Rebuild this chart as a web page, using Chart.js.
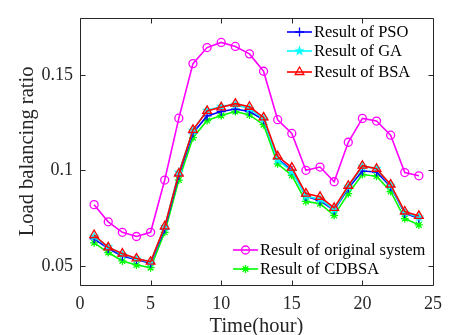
<!DOCTYPE html>
<html><head><meta charset="utf-8">
<script src="https://cdn.jsdelivr.net/npm/chart.js@4.4.0/dist/chart.umd.min.js"></script>
<style>html,body{margin:0;padding:0;background:#fff;}#wrap{width:450px;height:335px;position:relative;}</style>
</head><body><div id="wrap"><canvas id="c" width="450" height="335"></canvas></div>
<script>
const hours = [1,2,3,4,5,6,7,8,9,10,11,12,13,14,15,16,17,18,19,20,21,22,23,24];
const original = [0.0821,0.0731,0.0676,0.0654,0.0676,0.0950,0.1274,0.1560,0.1644,0.1671,0.1650,0.1611,0.1520,0.1266,0.1194,0.1001,0.1018,0.0941,0.1148,0.1273,0.1259,0.1185,0.0989,0.0972];
const pso = [0.0642,0.0591,0.0551,0.0534,0.0514,0.0693,0.0975,0.1197,0.1286,0.1309,0.1322,0.1309,0.1266,0.1061,0.1001,0.0864,0.0842,0.0791,0.0907,0.0997,0.0992,0.0915,0.0775,0.0750];
const ga = [0.0655,0.0600,0.0560,0.0537,0.0520,0.0705,0.0990,0.1210,0.1315,0.1335,0.1345,0.1325,0.1270,0.1055,0.0995,0.0865,0.0850,0.0795,0.0915,0.1020,0.1010,0.0920,0.0780,0.0755];
const bsa = [0.0662,0.0597,0.0565,0.0539,0.0522,0.0707,0.0984,0.1213,0.1312,0.1331,0.1350,0.1334,0.1278,0.1074,0.1015,0.0879,0.0862,0.0804,0.0920,0.1025,0.1009,0.0926,0.0785,0.0762];
const cdbsa = [0.0621,0.0570,0.0526,0.0505,0.0491,0.0676,0.0950,0.1172,0.1262,0.1288,0.1309,0.1291,0.1240,0.1035,0.0975,0.0838,0.0826,0.0765,0.0879,0.0979,0.0970,0.0890,0.0748,0.0715];
const xTicks = [0,5,10,15,20,25];
const yTicks = [0.05,0.1,0.15];
const yTickLabels = ['0.05','0.1','0.15'];
const seriesNames = ['Result of PSO','Result of GA','Result of BSA','Result of original system','Result of CDBSA'];

const FONT = "'Liberation Serif','Times New Roman',serif";
const AX = '#262626';

function starCanvas(color, r){
  const c = document.createElement('canvas');
  const s = Math.ceil(r*2+2); c.width = s; c.height = s;
  const g = c.getContext('2d');
  g.fillStyle = color; g.beginPath();
  for(let i=0;i<10;i++){
    const a = -Math.PI/2 + i*Math.PI/5;
    const rr = i%2===0 ? r : r*0.42;
    const px = s/2 + rr*Math.cos(a), py = s/2 + rr*Math.sin(a);
    if(i===0) g.moveTo(px,py); else g.lineTo(px,py);
  }
  g.closePath(); g.fill();
  return c;
}
const gaStar = starCanvas('#00ffff', 5.5);

function pts(arr){ return hours.map((h,i)=>({x:h,y:arr[i]})); }

const styles = [
  {color:'#0000ff', ps:'cross', r:4.5, ord:2},
  {color:'#00ffff', ps:gaStar, r:5, ord:1},
  {color:'#ff0000', ps:'triangle', r:5, ord:0},
  {color:'#ff00ff', ps:'circle', r:4, ord:4},
  {color:'#00ff00', ps:'star', r:4, ord:3}
];
const seriesData = [pso, ga, bsa, original, cdbsa];

const datasets = seriesData.map((d,i)=>({
  label: seriesNames[i],
  data: pts(d),
  borderColor: styles[i].color,
  backgroundColor: 'rgba(0,0,0,0)',
  pointBorderColor: styles[i].color,
  pointBackgroundColor: 'rgba(0,0,0,0)',
  pointStyle: styles[i].ps,
  pointRadius: styles[i].r,
  pointBorderWidth: 1.3,
  borderWidth: 1.6,
  tension: 0,
  order: styles[i].ord
}));

function drawMarker(ctx, st, x, y){
  ctx.save();
  ctx.strokeStyle = st.color; ctx.lineWidth = 1.3;
  const r = st.r;
  if (st.ps === 'circle'){ ctx.beginPath(); ctx.arc(x,y,r,0,Math.PI*2); ctx.stroke(); }
  else if (st.ps === 'triangle'){
    ctx.beginPath();
    ctx.moveTo(x, y - r); ctx.lineTo(x + r*0.866, y + r*0.5); ctx.lineTo(x - r*0.866, y + r*0.5); ctx.closePath(); ctx.stroke();
  } else if (st.ps === 'cross'){
    ctx.beginPath(); ctx.moveTo(x-r,y); ctx.lineTo(x+r,y); ctx.moveTo(x,y-r); ctx.lineTo(x,y+r); ctx.stroke();
  } else if (st.ps === 'star'){
    ctx.beginPath();
    ctx.moveTo(x-r,y); ctx.lineTo(x+r,y); ctx.moveTo(x,y-r); ctx.lineTo(x,y+r);
    const q = r*0.707;
    ctx.moveTo(x-q,y-q); ctx.lineTo(x+q,y+q); ctx.moveTo(x-q,y+q); ctx.lineTo(x+q,y-q); ctx.stroke();
  } else {
    ctx.drawImage(st.ps, x - st.ps.width/2, y - st.ps.height/2);
  }
  ctx.restore();
}

const framePlugin = {
  id: 'frame',
  afterDraw(chart){
    const ctx = chart.ctx, a = chart.chartArea;
    const xs = chart.scales.x, ys = chart.scales.y;
    ctx.save();
    ctx.strokeStyle = AX; ctx.lineWidth = 1;
    const L = Math.round(a.left)+0.5, R = Math.round(a.right)+0.5, T = Math.round(a.top)+0.5, B = Math.round(a.bottom)+0.5;
    ctx.beginPath(); ctx.rect(L, T, R-L, B-T); ctx.stroke();
    const tl = 5;
    ctx.beginPath();
    xTicks.forEach(v=>{
      const px = Math.round(xs.getPixelForValue(v))+0.5;
      ctx.moveTo(px,B); ctx.lineTo(px,B-tl);
      ctx.moveTo(px,T); ctx.lineTo(px,T+tl);
    });
    yTicks.forEach(v=>{
      const py = Math.round(ys.getPixelForValue(v))+0.5;
      ctx.moveTo(L,py); ctx.lineTo(L+tl,py);
      ctx.moveTo(R,py); ctx.lineTo(R-tl,py);
    });
    ctx.stroke();
    ctx.font = "16.5px " + FONT;
    ctx.fillStyle = '#000';
    ctx.textBaseline = 'middle'; ctx.textAlign = 'left';
    const leg = [
      {x0:287, x1:312, tx:314, ys:[32,51,72], idx:[0,1,2]},
      {x0:233, x1:258, tx:260, ys:[250,269], idx:[3,4]}
    ];
    leg.forEach(g=>{
      g.idx.forEach((k,j)=>{
        const y = g.ys[j], st = styles[k];
        ctx.strokeStyle = st.color; ctx.lineWidth = 1.6;
        ctx.beginPath(); ctx.moveTo(g.x0,y); ctx.lineTo(g.x1,y); ctx.stroke();
        drawMarker(ctx, st, (g.x0+g.x1)/2, y);
        ctx.fillText(seriesNames[k], g.tx, y+1);
      });
    });
    ctx.restore();
  }
};

new Chart(document.getElementById('c'), {
  type: 'line',
  data: { datasets },
  options: {
    responsive: false,
    animation: false,
    devicePixelRatio: 1,
    layout: { padding: { top: 14, right: 13, left: 0, bottom: 0 } },
    plugins: { legend: { display: false }, tooltip: { enabled: false } },
    scales: {
      x: {
        type: 'linear', min: 0, max: 25,
        afterBuildTicks(s){ s.ticks = xTicks.map(v=>({value:v})); },
        afterFit(s){ s.height = 50; },
        grid: { display: false, drawTicks: false },
        border: { display: false },
        ticks: { font: { family: FONT, size: 18 }, color: AX, padding: 8, maxRotation: 0, autoSkip: false, callback: v => String(v) },
        title: { display: true, text: 'Time(hour)', font: { family: FONT, size: 20.5, lineHeight: 1 }, color: AX, padding: { top: 0, bottom: -2 } }
      },
      y: {
        type: 'linear', min: 0.04, max: 0.18,
        afterBuildTicks(s){ s.ticks = yTicks.map(v=>({value:v})); },
        afterFit(s){ s.width = 80; },
        grid: { display: false, drawTicks: false },
        border: { display: false },
        ticks: { font: { family: FONT, size: 18 }, color: AX, padding: 7, autoSkip: false, callback: (v) => { const i = yTicks.indexOf(v); return i >= 0 ? yTickLabels[i] : ''; } },
        title: { display: true, text: 'Load balancing ratio', font: { family: FONT, size: 20.5, lineHeight: 1 }, color: AX, padding: { top: 17, bottom: 0 } }
      }
    }
  },
  plugins: [framePlugin]
});
</script></body></html>
